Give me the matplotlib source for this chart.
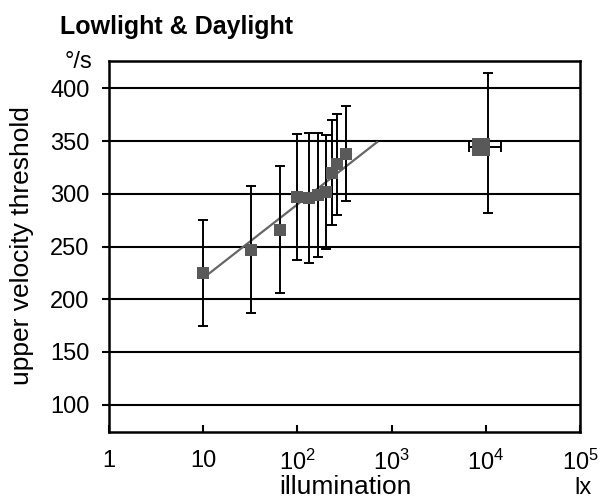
import numpy as np
import matplotlib
matplotlib.use("Agg")
import matplotlib.pyplot as plt

# fonts
plt.rcParams['font.family'] = ['Liberation Sans', 'DejaVu Sans']
plt.rcParams['mathtext.fontset'] = 'custom'
plt.rcParams['mathtext.rm'] = 'Liberation Sans'

# lowlight data (lx, deg/s)
low_x = [10, 32, 66, 100, 132, 164, 199, 234, 264, 326]
low_y = [225, 247, 266, 297, 296, 299, 302, 320, 328, 338]
low_err = [50, 60, 60, 60, 62, 59, 54, 50, 48, 45]

# daylight point
day_x = [9000]
day_bar_x = [10500]
day_y = [344]
day_yerr = [[62], [71]]
day_xerr = [[3900], [4000]]

# regression line endpoints
fit_x = [10, 700]
fit_y = [220, 349]

xticks = [1, 10, 100, 1000, 1e4, 1e5]
xlabels = ['1', '10', r'$\mathregular{10^2}$', r'$\mathregular{10^3}$',
           r'$\mathregular{10^4}$', r'$\mathregular{10^5}$']
yticks = [100, 150, 200, 250, 300, 350, 400]

fig = plt.figure(figsize=(6.03, 4.99), dpi=100)
ax = fig.add_axes([109/603, 67/499, 471/603, 371/499])

for y in yticks:
    ax.axhline(y, color='black', lw=1.5, zorder=1)

ax.plot(fit_x, fit_y, color='#666666', lw=1.6, zorder=2)

ax.errorbar(low_x, low_y, yerr=low_err, fmt='none', ecolor='black',
            elinewidth=1.4, capsize=3.3, capthick=1.4, zorder=3)
ax.plot(low_x, low_y, 's', color='#595959', ms=8.4, mew=0, zorder=4)

ax.errorbar(day_bar_x, day_y, yerr=day_yerr, xerr=day_xerr, fmt='none',
            ecolor='black', elinewidth=1.4, capsize=3.3, capthick=1.4, zorder=3)
ax.plot(day_x, day_y, 's', color='#595959', ms=13.5, mew=0, zorder=4)

ax.set_xscale('log')
ax.set_xlim(1, 1e5)
ax.set_ylim(74, 426)
ax.set_xticks(xticks)
ax.set_xticklabels(xlabels)
ax.xaxis.set_minor_locator(matplotlib.ticker.NullLocator())
ax.set_yticks(yticks)

ax.tick_params(axis='x', direction='in', length=5, width=1.5, labelsize=17, pad=13)
ax.tick_params(axis='y', direction='out', length=5, width=1.5, labelsize=17, pad=9)
for s in ax.spines.values():
    s.set_linewidth(1.8)

# texts
fig.text(60/603, 1 - 34/499, 'Lowlight & Daylight', fontsize=18,
         fontweight='bold', ha='left', va='baseline')
fig.text(92/603, 1 - 68/499, '°/s', fontsize=17, ha='right', va='baseline')
fig.text(22/603, 1 - 246/499, 'upper velocity threshold', fontsize=19,
         rotation=90, ha='center', va='center')
fig.text(345/603, 1 - 494/499, 'illumination', fontsize=19,
         ha='center', va='baseline')
fig.text(583/603, 1 - 494/499, 'lx', fontsize=17, ha='center', va='baseline')

fig.savefig('out.png', dpi=100)
